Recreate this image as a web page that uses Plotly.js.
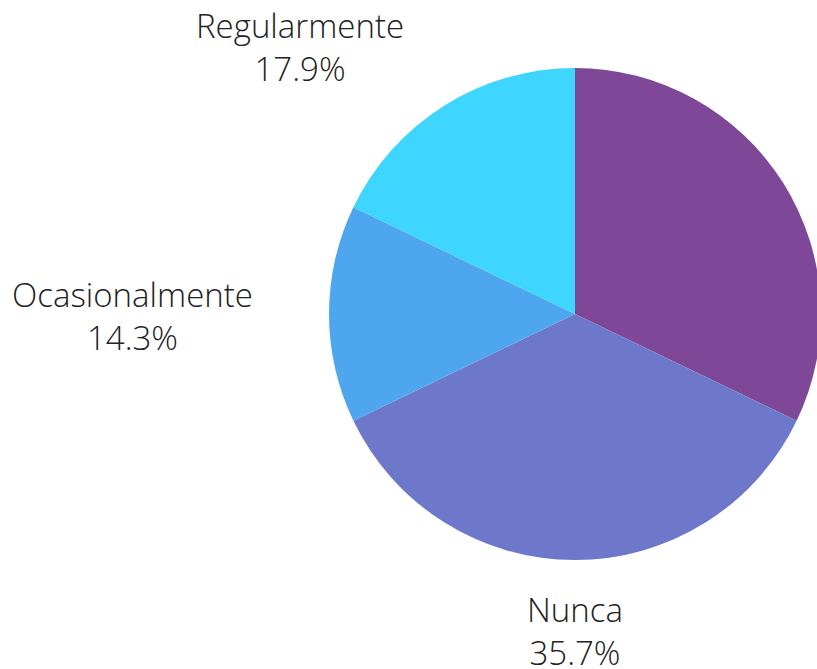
<!DOCTYPE html>
<html>
<head>
<meta charset="utf-8">
<script src="https://cdn.plot.ly/plotly-3.0.1.min.js"></script>
<style>
html, body { margin: 0; padding: 0; overflow: hidden; background: #fff; }
#chart { width: 1150px; height: 669px; }
</style>
</head>
<body>
<div id="chart"></div>
<script>
const categories = ["Siempre", "Nunca", "Ocasionalmente", "Regularmente"];
const counts = [9, 10, 4, 5];
const colors = ["#7F4797", "#6E78CB", "#4EA6EE", "#3ED5FE"];

// label centre positions in page pixels (text placement only);
// null = label lies outside the visible window in the reference
const labelPx = [null, [575, 631], [132, 316], [300, 47]];

const W = 1150, H = 669;
const total = counts.reduce((a, b) => a + b, 0);

const trace = {
  type: "pie",
  labels: categories,
  values: counts,
  sort: false,
  direction: "clockwise",
  rotation: 0,
  marker: { colors: colors, line: { width: 0 } },
  textinfo: "none",
  hoverinfo: "label+percent",
  showlegend: false,
  domain: { x: [0, 1], y: [(H - 560) / H, (H - 68) / H] }
};

const annotations = [];
categories.forEach((c, i) => {
  if (!labelPx[i]) return;
  annotations.push({
    xref: "paper", yref: "paper",
    x: labelPx[i][0] / W,
    y: 1 - labelPx[i][1] / H,
    xanchor: "center", yanchor: "middle",
    showarrow: false,
    text: c + "<br>" + (100 * counts[i] / total).toFixed(1) + "%",
    font: { family: "Open Sans", size: 33, color: "#222222", weight: 300 }
  });
});

const layout = {
  width: W,
  height: H,
  margin: { l: 0, r: 0, t: 0, b: 0 },
  paper_bgcolor: "#ffffff",
  font: { family: "Open Sans", weight: 300 },
  showlegend: false,
  annotations: annotations
};

Plotly.newPlot("chart", [trace], layout, { displayModeBar: false, staticPlot: true });
</script>
</body>
</html>
